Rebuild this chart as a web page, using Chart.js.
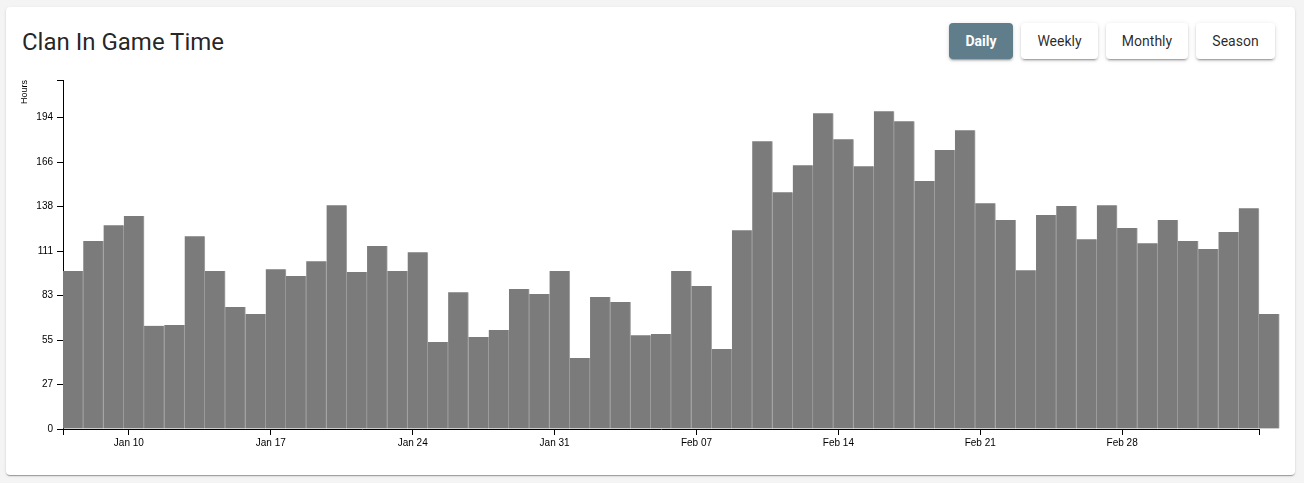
<!DOCTYPE html>
<html>
<head>
<meta charset="utf-8">
<script src="https://cdn.jsdelivr.net/npm/chart.js@4.4.0/dist/chart.umd.min.js"></script>
<style>
html,body{margin:0;padding:0;width:1304px;height:483px;overflow:hidden;background:#f4f4f4;font-family:Roboto,"Noto Sans",sans-serif;}
.card{position:absolute;left:6px;top:7px;width:1289px;height:468px;background:#fff;border-radius:4px;
  box-shadow:0 2px 1px -1px rgba(0,0,0,.2),0 1px 1px 0 rgba(0,0,0,.14),0 1px 3px 0 rgba(0,0,0,.12);}
.title{position:absolute;left:22px;top:28px;font-size:24px;line-height:28px;color:rgba(0,0,0,.87);font-weight:400;white-space:nowrap;}
.btns{position:absolute;top:23px;left:949px;display:flex;gap:8px;}
.btn{height:36px;box-sizing:border-box;border-radius:4px;font-size:14px;line-height:36px;text-align:center;
  background:#fff;color:rgba(0,0,0,.85);font-weight:400;
  box-shadow:0 3px 1px -2px rgba(0,0,0,.2),0 2px 2px 0 rgba(0,0,0,.14),0 1px 5px 0 rgba(0,0,0,.12);}
.btn.active{background:#607d8b;color:#fff;font-weight:700;}
#chart{position:absolute;left:0;top:0;}
</style>
</head>
<body>
<div class="card"></div>
<div class="title">Clan In Game Time</div>
<div class="btns">
  <div class="btn active" style="width:64px">Daily</div>
  <div class="btn" style="width:77px">Weekly</div>
  <div class="btn" style="width:82px">Monthly</div>
  <div class="btn" style="width:79px">Season</div>
</div>
<canvas id="chart" width="1304" height="483"></canvas>
<script>
const dates = [
  "Jan 07","Jan 08","Jan 09","Jan 10","Jan 11","Jan 12","Jan 13","Jan 14","Jan 15","Jan 16",
  "Jan 17","Jan 18","Jan 19","Jan 20","Jan 21","Jan 22","Jan 23","Jan 24","Jan 25","Jan 26",
  "Jan 27","Jan 28","Jan 29","Jan 30","Jan 31","Feb 01","Feb 02","Feb 03","Feb 04","Feb 05",
  "Feb 06","Feb 07","Feb 08","Feb 09","Feb 10","Feb 11","Feb 12","Feb 13","Feb 14","Feb 15",
  "Feb 16","Feb 17","Feb 18","Feb 19","Feb 20","Feb 21","Feb 22","Feb 23","Feb 24","Feb 25",
  "Feb 26","Feb 27","Feb 28","Mar 01","Mar 02","Mar 03","Mar 04","Mar 05","Mar 06","Mar 07"
];
const hours = [
  98.4,117.1,127.0,132.7,64.3,64.8,120.2,98.4,76.0,71.6,
  99.6,95.3,104.6,139.5,97.8,114.0,98.4,110.2,54.2,85.3,
  57.3,61.7,87.2,84.1,98.4,44.2,82.2,79.1,58.5,59.2,
  98.4,89.1,49.8,123.9,179.4,147.6,164.4,196.8,180.6,163.8,
  198.0,191.8,154.5,173.8,186.2,140.7,130.2,99.0,133.3,138.9,
  118.3,139.5,125.2,115.8,130.2,117.1,112.1,122.7,137.6,71.6
];
const xTickLabels = ["Jan 10","Jan 17","Jan 24","Jan 31","Feb 07","Feb 14","Feb 21","Feb 28"];
const yTickLabels = [0,27,55,83,111,138,166,194];
const yMax = 217.5;
const yAxisTitle = "Hours";

// local-midnight ticks fall a quarter day after each UTC-dated bar start
const TZ_SHIFT = 0.25;
const xMax = dates.length - 1;
const xTicks = [{value:0,label:""}]
  .concat(xTickLabels.map(l => ({value: dates.indexOf(l) + TZ_SHIFT, label: l})))
  .concat([{value:xMax,label:""}]);
const yStep = yTickLabels[yTickLabels.length-1] / (yTickLabels.length-1);
const yTicks = yTickLabels.map((l,i) => ({value:i*yStep,label:String(l)}))
  .concat([{value:yMax,label:""}]);

const tickFont = {family:'"Liberation Sans", Arial, sans-serif', size:10};

new Chart(document.getElementById('chart'), {
  type:'bar',
  data:{datasets:[{
    data: hours.map((v,i)=>({x:i+0.5,y:v})),
    backgroundColor:'#7b7b7b',
    borderColor:'#a6a6a6',
    borderWidth:{left:0,right:1,top:0,bottom:0},
    borderSkipped:false,
    barPercentage:1,
    categoryPercentage:1,
    clip:false
  }]},
  options:{
    responsive:false,
    animation:false,
    devicePixelRatio:1,
    layout:{padding:{left:0,right:45,top:80,bottom:24}},
    plugins:{legend:{display:false},tooltip:{enabled:false}},
    scales:{
      x:{
        type:'linear', min:0, max:xMax, offset:false,
        grid:{display:true,drawOnChartArea:false,drawTicks:true,tickLength:6,color:'#000',offset:false},
        border:{display:true,color:'#000',width:1},
        ticks:{autoSkip:false,maxRotation:0,minRotation:0,padding:2,color:'#000',font:tickFont,
          callback:(v,i)=>xTicks[i] ? xTicks[i].label : ''},
        afterBuildTicks:s=>{s.ticks = xTicks.map(t=>({value:t.value}));},
        afterFit:s=>{s.height = 30;}
      },
      y:{
        type:'linear', min:0, max:yMax,
        grid:{display:true,drawOnChartArea:false,drawTicks:true,tickLength:6,color:'#000'},
        border:{display:true,color:'#000',width:1},
        ticks:{padding:4,color:'#000',font:tickFont,
          callback:(v,i)=>yTicks[i] ? yTicks[i].label : ''},
        afterBuildTicks:s=>{s.ticks = yTicks.map(t=>({value:t.value}));},
        afterFit:s=>{s.width = 63;},
        title:{display:true,text:yAxisTitle,align:'end',color:'#000',
          font:{family:'"Liberation Sans", Arial, sans-serif',size:9},padding:{top:19,bottom:0}}
      }
    }
  }
});
</script>
</body>
</html>
